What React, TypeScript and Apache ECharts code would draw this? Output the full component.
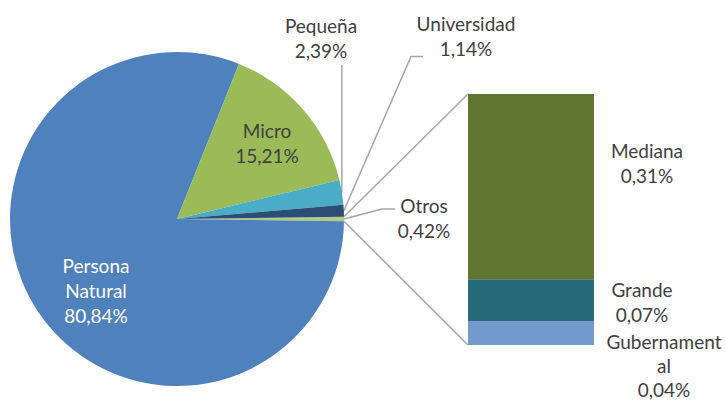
import React, { useEffect, useRef } from 'react';
import * as echarts from 'echarts';

// ---- data ----
const pieNames = ['Otros', 'Persona Natural', 'Micro', 'Pequeña', 'Universidad'];
const pieLabelNames = ['Otros', 'Persona\nNatural', 'Micro', 'Pequeña', 'Universidad'];
const pieValues = [0.42, 80.84, 15.21, 2.39, 1.14];
const pieColors = ['#AFCB84', '#4F81BD', '#9BBB59', '#4BACC6', '#2C4D75'];

const barNames = ['Gubernamental', 'Grande', 'Mediana'];
const barLabelNames = ['Gubernament\nal', 'Grande', 'Mediana'];
const barValues = [0.04, 0.07, 0.31];
const barColors = ['#729ACA', '#276A7C', '#5F7530'];

// ---- layout ----
const CX = 177;
const CY = 219;
const R = 167;
const BAR_LEFT = 468;
const BAR_TOP = 94;
const BAR_W = 126;
const BAR_H = 251;
const FONT = 'Lato, "Liberation Sans", sans-serif';
const TEXT = '#404040';
const LINE = '#A6A6A6';

const fmt = (v: number) => v.toFixed(2).replace('.', ',') + '%';

const pieLabelPos: Record<string, [number, number]> = {
  'Otros': [424, 218],
  'Persona Natural': [96, 290],
  'Micro': [267, 143],
  'Pequeña': [321, 38],
  'Universidad': [466, 36],
};
const barLabelPos: Record<string, [number, number]> = {
  'Mediana': [647, 163],
  'Grande': [642, 302],
  'Gubernamental': [664, 365],
};

export default function App() {
  const ref = useRef<HTMLDivElement>(null);
  useEffect(() => {
    if (!ref.current) return;
    const chart = echarts.init(ref.current, null, { renderer: 'svg' });
    const otrosHalf = (pieValues[0] / 100) * 180; // half angle of Otros slice in degrees
    const startAngle = otrosHalf;
    const a1 = (otrosHalf * Math.PI) / 180;
    const pTop: [number, number] = [CX + R * Math.cos(a1), CY - R * Math.sin(a1)];
    const pBot: [number, number] = [CX + R * Math.cos(a1), CY + R * Math.sin(a1)];

    const outside = ['Otros', 'Pequeña', 'Universidad'];

    const pieData = pieNames.map((n, i) => ({
      name: n,
      value: pieValues[i],
      itemStyle: { color: pieColors[i] },
      label: {
        show: true,
        position: outside.includes(n) ? 'outside' : 'inside',
        color: n === 'Persona Natural' ? '#FFFFFF' : TEXT,
      },
      labelLine: { show: outside.includes(n) },
    }));

    const option: any = {
      animation: false,
      textStyle: { fontFamily: FONT },
      grid: { left: BAR_LEFT, top: BAR_TOP, width: BAR_W, height: BAR_H },
      xAxis: { type: 'category', data: ['Otros'], show: false },
      yAxis: { type: 'value', min: 0, max: pieValues[0], show: false },
      series: [
        {
          type: 'pie',
          center: [CX, CY],
          radius: R,
          startAngle,
          clockwise: true,
          silent: true,
          data: pieData,
          itemStyle: { borderWidth: 0 },
          label: {
            fontFamily: FONT,
            fontSize: 19,
            lineHeight: 25,
            align: 'center',
            formatter: (p: any) => pieLabelNames[p.dataIndex] + '\n' + fmt(p.value),
          },
          labelLine: {
            show: true,
            lineStyle: { color: LINE, width: 1.5 },
            length: 20,
            length2: 10,
          },
          labelLayout: (p: any) => {
            const name = pieNames[p.dataIndex];
            const pos = pieLabelPos[name];
            const res: any = { x: pos[0], y: pos[1], align: 'center', verticalAlign: 'middle' };
            const s = p.labelLinePoints && p.labelLinePoints[0];
            if (s) {
              if (name === 'Pequeña') res.labelLinePoints = [[s[0], s[1]], [s[0], 65]];
              if (name === 'Universidad') res.labelLinePoints = [[s[0], s[1]], [411, 56.5], [423, 56.5]];
              if (name === 'Otros') res.labelLinePoints = [[s[0], s[1]], [382, 209], [395, 209]];
            }
            return res;
          },
        },
        ...barNames.map((n, i) => ({
          type: 'bar',
          name: n,
          stack: 'otros',
          barWidth: '100%',
          silent: true,
          data: [barValues[i]],
          itemStyle: { color: barColors[i] },
          label: {
            show: true,
            position: 'inside',
            color: TEXT,
            fontFamily: FONT,
            fontSize: 19,
            lineHeight: i === 0 ? 24 : 25,
            align: 'center',
            formatter: (p: any) => barLabelNames[i] + '\n' + fmt(p.value),
          },
          labelLayout: () => {
            const pos = barLabelPos[n];
            return { x: pos[0], y: pos[1], align: 'center', verticalAlign: 'middle' };
          },
        })),
      ],
      graphic: [
        {
          type: 'line',
          shape: { x1: pTop[0], y1: pTop[1], x2: BAR_LEFT, y2: BAR_TOP },
          style: { stroke: LINE, lineWidth: 1.5 },
          silent: true,
        },
        {
          type: 'line',
          shape: { x1: pBot[0], y1: pBot[1], x2: BAR_LEFT, y2: BAR_TOP + BAR_H },
          style: { stroke: LINE, lineWidth: 1.5 },
          silent: true,
        },
      ],
    };
    chart.setOption(option);
    return () => chart.dispose();
  }, []);
  return <div ref={ref} style={{ width: 726, height: 403, position: 'absolute', left: 0, top: 0 }} />;
}
